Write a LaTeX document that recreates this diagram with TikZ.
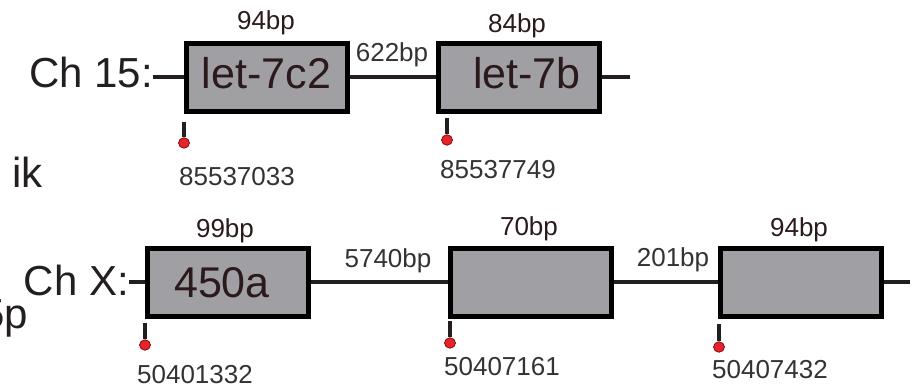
\documentclass[tikz,border=0pt]{standalone}
\usepackage{fontspec}
\setmainfont{Liberation Sans}
\usetikzlibrary{shapes.geometric}
\definecolor{boxgray}{HTML}{A09FA4}
\definecolor{pinred}{HTML}{E3242B}
\definecolor{inkdark}{HTML}{231F20}
\definecolor{labelbrown}{HTML}{2B1A1C}
\definecolor{numgray}{HTML}{333333}
\begin{document}
\begin{tikzpicture}[
        x=1pt, y=-1pt,
        gene/.style={rectangle, draw=black, line width=5pt, fill=boxgray, minimum width=161pt, minimum height=68pt, inner sep=0pt, text=labelbrown, font=\fontsize{43}{48}\selectfont, text height=32pt, text depth=9pt},
        chrom/.style={anchor=base east, inner sep=0pt, text=inkdark, font=\fontsize{42}{48}\selectfont},
        sizelab/.style={anchor=base, inner sep=0pt, text=labelbrown, font=\fontsize{26}{30}\selectfont},
        gaplab/.style={anchor=base, inner sep=0pt, text=numgray, font=\fontsize{26}{30}\selectfont},
        coordlab/.style={anchor=base, inner sep=0pt, text=numgray, font=\fontsize{26}{30}\selectfont},
        backbone/.style={draw=inkdark, line width=4pt},
        startdot/.style={ellipse, draw=red!50!black, fill=pinred, line width=0.7pt, minimum width=11pt, minimum height=10.5pt, inner sep=0pt},
        stem/.style={draw=inkdark, line width=3.8pt}
    ]
        \useasboundingbox (0,0) rectangle (912,385);

        % Ch 15 row
        \node[chrom] (ch15) at (153,88) {Ch 15:};
        \node[chrom] (cut1) at (43,187) {ik};
        \node[gene] (b1) at (266.5,77.5) {let-7c2};
        \node[gene] (b2) at (519,77.5) {\hspace*{16pt}let-7b};
        \coordinate (end1) at (630,77.5);

        \draw[backbone] (ch15.east |- b1.west) -- (b1.west);
        \draw[backbone] (b1) -- (b2);
        \draw[backbone] (b2.east) -- (end1);

        \node[sizelab] (s1) at (266,30) {94bp};
        \node[sizelab] (s2) at (517,33) {84bp};
        \node[gaplab] (g1) at (392,62) {622bp};

        % start positions
        \node[startdot] (d1) at (184,143) {};
        \node[startdot] (d2) at (447,140) {};
        \draw[stem] (d1.north) -- ++(0,-15);
        \draw[stem] (d2.north) -- ++(0,-16);
        \node[coordlab] (n1) at (237,185) {85537033};
        \node[coordlab] (n2) at (498,178) {85537749};

        % Ch X row
        \node[chrom] (chX) at (129,295) {Ch X:};
        \node[chrom] (cut2) at (28,328) {5p};
        \node[gene, text depth=2pt] (b3) at (227.5,282) {450a\hspace*{11pt}};
        \node[gene] (b4) at (531,282) {};
        \node[gene] (b5) at (801,282) {};
        \coordinate (end2) at (910,282);

        \draw[backbone] (chX.east |- b3.west) -- (b3.west);
        \draw[backbone] (b3) -- (b4);
        \draw[backbone] (b4) -- (b5);
        \draw[backbone] (b5.east) -- (end2);

        \node[sizelab] (s3) at (225,237) {99bp};
        \node[sizelab] (s4) at (529,235) {70bp};
        \node[sizelab] (s5) at (799,236) {94bp};
        \node[gaplab] (g2) at (388,267) {5740bp};
        \node[gaplab] (g3) at (673,266) {201bp};

        \node[startdot] (d3) at (145,345) {};
        \node[startdot] (d4) at (450,343) {};
        \node[startdot] (d5) at (719,347) {};
        \draw[stem] (d3.north) -- ++(0,-16);
        \draw[stem] (d4.north) -- ++(0,-16);
        \draw[stem] (d5.north) -- ++(0,-17);
        \node[coordlab] (n3) at (195,383) {50401332};
        \node[coordlab] (n4) at (502,375) {50407161};
        \node[coordlab] (n5) at (770,378) {50407432};

    \end{tikzpicture}
\end{document}
